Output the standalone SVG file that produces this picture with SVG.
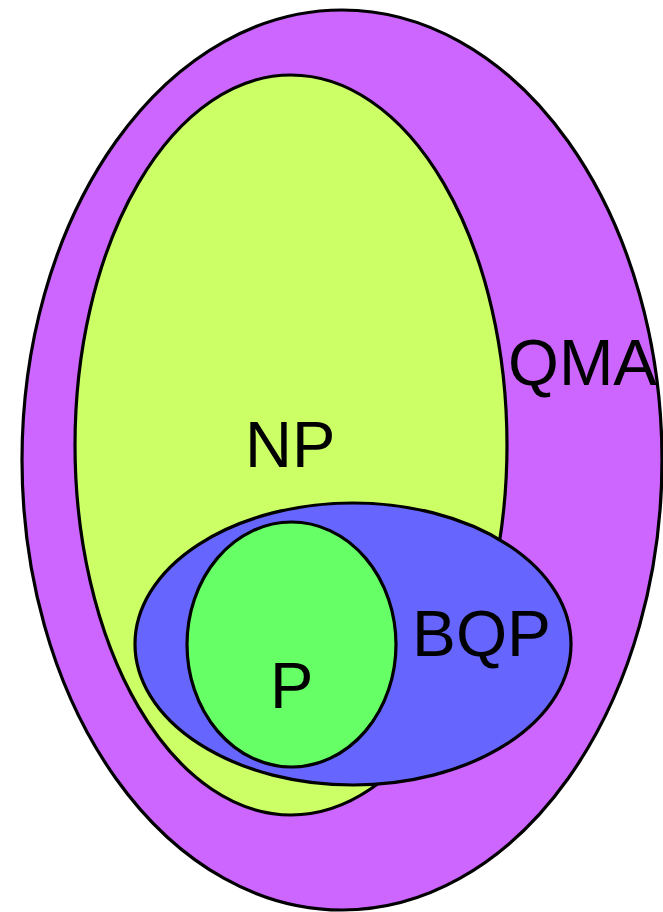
<svg xmlns="http://www.w3.org/2000/svg" width="663" height="912" viewBox="0 0 663 912">
  <style>
    .set { stroke: #000; stroke-width: 3.2; }
    .label { font-family: "Liberation Sans", Arial, sans-serif; font-size: 65px; fill: #000; }
  </style>
  <rect width="663" height="912" fill="#fff"/>
  <g id="qma">
    <ellipse class="set" cx="342" cy="460" rx="320" ry="450" fill="#CC66FF"/>
    <text class="label" x="508" y="385" textLength="149" lengthAdjust="spacingAndGlyphs">QMA</text>
  </g>
  <g id="np">
    <ellipse class="set" cx="291" cy="445" rx="216" ry="370" fill="#CCFF66"/>
    <text class="label" x="245" y="467">NP</text>
  </g>
  <g id="bqp">
    <ellipse class="set" cx="353" cy="644" rx="218" ry="141" fill="#6666FF"/>
    <text class="label" x="412" y="656" textLength="139" lengthAdjust="spacingAndGlyphs">BQP</text>
  </g>
  <g id="p">
    <ellipse class="set" cx="291.5" cy="644.5" rx="104.5" ry="122.5" fill="#66FF66"/>
    <text class="label" x="270" y="708">P</text>
  </g>
  <g id="connectors"/>
</svg>
